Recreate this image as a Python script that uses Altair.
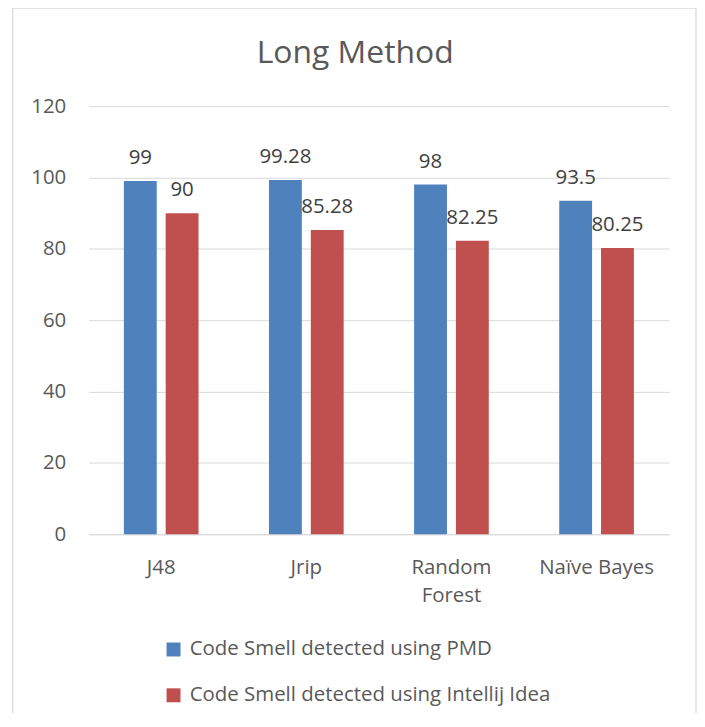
import altair as alt
import pandas as pd

title_text = "Long Method"
categories = ["J48", "Jrip", "Random Forest", "Naïve Bayes"]
series = ["Code Smell detected using PMD", "Code Smell detected using Intellij Idea"]
pmd_values = [99, 99.28, 98, 93.5]
intellij_values = [90, 85.28, 82.25, 80.25]
pmd_labels = ["99", "99.28", "98", "93.5"]
intellij_labels = ["90", "85.28", "82.25", "80.25"]
y_ticks = [0, 20, 40, 60, 80, 100, 120]
colors = ["#4f81bd", "#c0504d"]

rows = []
for c, v, l in zip(categories, pmd_values, pmd_labels):
    rows.append({"category": c, "series": series[0], "value": v, "label": l})
for c, v, l in zip(categories, intellij_values, intellij_labels):
    rows.append({"category": c, "series": series[1], "value": v, "label": l})
df = pd.DataFrame(rows)

FONT = "Open Sans"
FS = 20.5

x_enc = alt.X(
    "category:N",
    sort=categories,
    scale=alt.Scale(paddingInner=0.4854, paddingOuter=0.2427),
    axis=alt.Axis(
        title=None,
        labelAngle=0,
        ticks=False,
        tickSize=0,
        domainColor="#d9d9d9",
        domainWidth=1,
        labelPadding=23,
        labelFont=FONT,
        labelFontSize=FS,
        labelColor="#595959",
        labelLineHeight=29,
        labelExpr="datum.label == 'Random Forest' ? ['Random', 'Forest'] : datum.label",
    ),
)
xoff_enc = alt.XOffset(
    "series:N", sort=series, scale=alt.Scale(paddingInner=0.2143, paddingOuter=0)
)
y_enc = alt.Y(
    "value:Q",
    scale=alt.Scale(domain=[0, 120], nice=False),
    axis=alt.Axis(
        title=None,
        values=y_ticks,
        domain=False,
        ticks=False,
        tickSize=0,
        gridColor="#d9d9d9",
        gridWidth=1,
        labelPadding=23,
        labelFont=FONT,
        labelFontSize=FS,
        labelColor="#595959",
    ),
)

bars = alt.Chart(df).mark_bar().encode(
    x=x_enc,
    xOffset=xoff_enc,
    y=y_enc,
    color=alt.Color(
        "series:N",
        sort=series,
        scale=alt.Scale(domain=series, range=colors),
        legend=alt.Legend(
            title=None,
            orient="none",
            legendX=75,
            legendY=535.5,
            direction="vertical",
            symbolType="square",
            symbolSize=196,
            symbolStrokeWidth=0,
            labelFont=FONT,
            labelFontSize=FS,
            labelColor="#595959",
            labelOffset=6,
            labelLimit=0,
            rowPadding=25,
        ),
    ),
)

texts = alt.Chart(df).mark_text(
    baseline="alphabetic", dy=-17, font=FONT, fontSize=FS, color="#404040"
).encode(
    x=alt.X("category:N", sort=categories),
    xOffset=alt.XOffset("series:N", sort=series),
    y="value:Q",
    text="label:N",
)

title = alt.Chart(alt.Data(values=[{"t": title_text}])).mark_text(
    font=FONT, fontSize=32, color="#595959", align="center", baseline="alphabetic"
).encode(
    text="t:N",
    x=alt.value(267.7),
    y=alt.value(-43.3),
)

border = alt.Chart(alt.Data(values=[{}])).mark_rect(
    fillOpacity=0, stroke="#d9d9d9", strokeWidth=1.2
).encode(
    x=alt.value(-76.3),
    x2=alt.value(610),
    y=alt.value(-98.5),
    y2=alt.value(640),
)

chart = alt.layer(border, bars, texts, title).properties(
    width=583,
    height=430,
    padding={"left": 81, "top": 97, "right": 28, "bottom": 178},
    autosize=alt.AutoSizeParams(type="none"),
    background="white",
).configure_view(stroke=None)

chart.save("out.html", embed_options={"renderer": "svg", "actions": False})
